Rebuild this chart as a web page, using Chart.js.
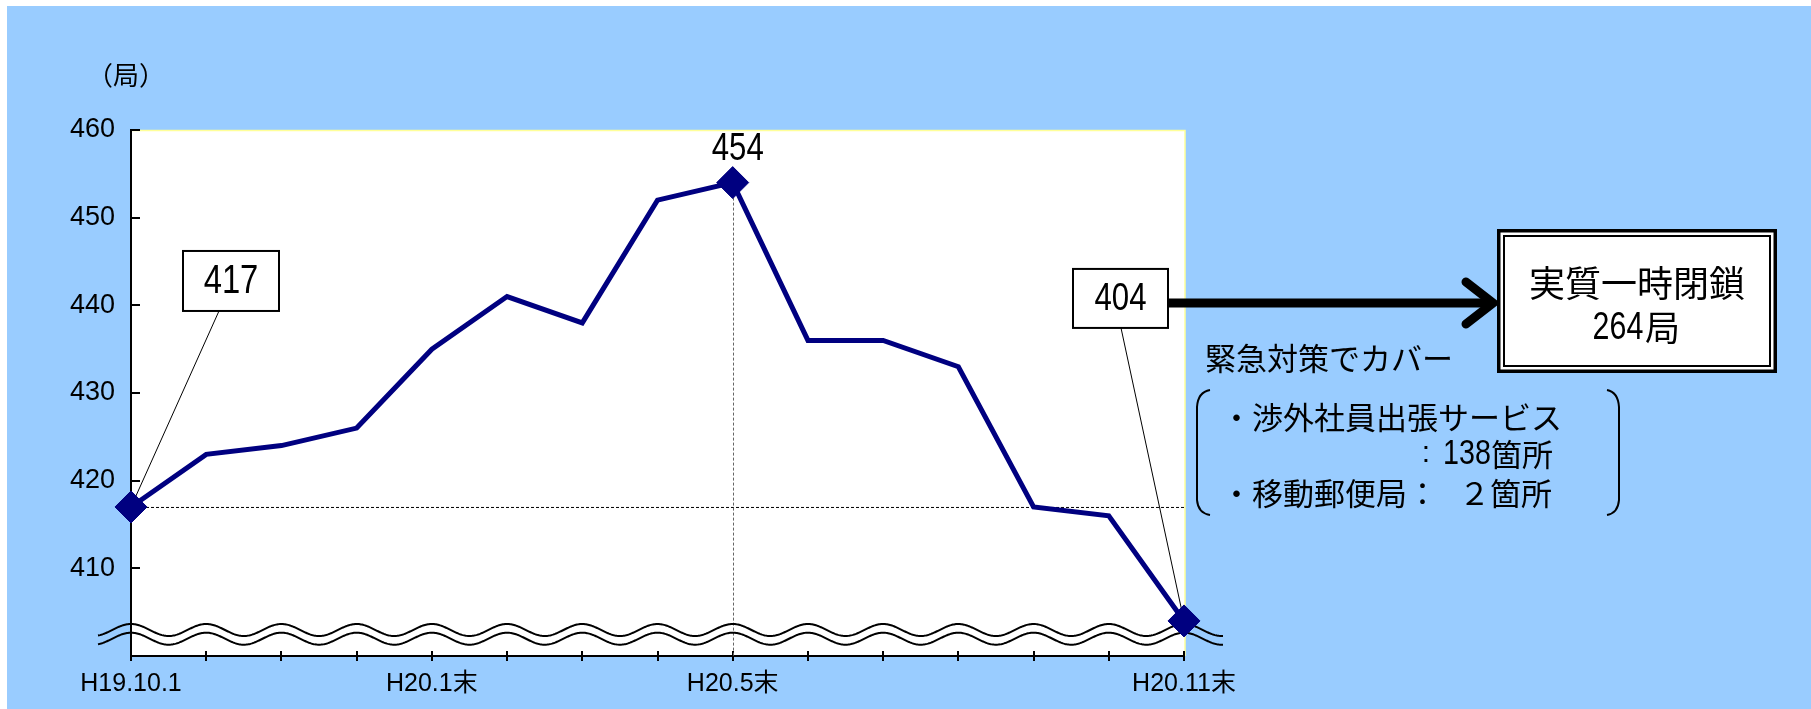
<!DOCTYPE html>
<html lang="ja">
<head>
<meta charset="UTF-8">
<title>郵便局数の推移</title>
<script src="https://cdn.jsdelivr.net/npm/chart.js"></script>
<style>
  html, body { margin: 0; padding: 0; background: #fff; }
  #wrap { width: 1811px; height: 709px; }
</style>
</head>
<body>
<div id="wrap"><canvas id="kyoku" width="1811" height="709"></canvas></div>
<script>
// 局数の推移（月末ごと）
const tsuki = ['H19.10.1', 'H19.10末', 'H19.11末', 'H19.12末', 'H20.1末', 'H20.2末', 'H20.3末', 'H20.4末',
               'H20.5末', 'H20.6末', 'H20.7末', 'H20.8末', 'H20.9末', 'H20.10末', 'H20.11末'];
const kyokusu = [417, 423, 424, 426, 435, 441, 438, 452, 454, 436, 436, 433, 417, 416, 404];
const yTicks = [400, 410, 420, 430, 440, 450, 460];
const xLabelIdx = [0, 4, 8, 14];   // 軸に出すラベル
const markIdx = [0, 8, 14];        // ◆を付ける点

// 右側の注記
const heisa = ['実質一時閉鎖', '264', '局'];
const cover = '緊急対策でカバー';
const shogai = ['・渉外社員出張サービス', ':', '138', '箇所'];
const idou = ['・移動郵便局：', '２箇所'];

const NAVY = '#000080';
const BLUE = '#99ccff';
const JP = '"Noto Sans CJK JP", sans-serif';
const LAT = '"Liberation Sans", "Noto Sans CJK JP", sans-serif';

// 細長い数字（横だけ縮める）
function narrow(ctx, txt, x, y, px, sx, align) {
  ctx.save();
  ctx.font = px + 'px "Liberation Sans", sans-serif';
  ctx.textAlign = align || 'center';
  ctx.textBaseline = 'middle';
  ctx.translate(x, y);
  ctx.scale(sx, 1);
  ctx.fillText(txt, 0, 0);
  ctx.restore();
}

function jp(ctx, txt, x, y, px, align) {
  ctx.font = px + 'px ' + JP;
  ctx.textAlign = align || 'left';
  ctx.textBaseline = 'middle';
  ctx.fillText(txt, x, y);
}

function line(ctx, x1, y1, x2, y2) {
  ctx.beginPath();
  ctx.moveTo(x1, y1);
  ctx.lineTo(x2, y2);
  ctx.stroke();
}

const deco = {
  id: 'deco',
  beforeDraw(chart) {
    const { ctx, chartArea: a } = chart;
    ctx.save();
    ctx.fillStyle = '#fff';
    ctx.fillRect(0, 0, chart.width, chart.height);
    ctx.fillStyle = BLUE;
    ctx.fillRect(7, 6, chart.width - 7, chart.height - 6);
    ctx.fillStyle = '#fff';
    ctx.fillRect(a.left, a.top, a.right - a.left + 1, a.bottom - a.top);
    ctx.strokeStyle = '#ffff99';
    ctx.lineWidth = 1.5;
    ctx.beginPath();
    ctx.moveTo(a.left, a.top + 0.5);
    ctx.lineTo(a.right + 1, a.top + 0.5);
    ctx.lineTo(a.right + 1, a.bottom);
    ctx.stroke();
    // 単位
    ctx.fillStyle = '#000';
    jp(ctx, '（局）', 126, 75, 26, 'center');
    ctx.restore();
  },
  beforeDatasetsDraw(chart) {
    const { ctx, chartArea: a } = chart;
    const xs = chart.scales.x, ys = chart.scales.y;
    ctx.save();
    ctx.strokeStyle = '#000';

    // 内向きの目盛り
    ctx.lineWidth = 2;
    yTicks.slice(1).forEach(v => {
      const y = Math.round(ys.getPixelForValue(v));
      line(ctx, a.left, y, a.left + 9, y);
    });
    tsuki.forEach((t, i) => {
      const x = Math.round(xs.getPixelForValue(i));
      line(ctx, x, a.bottom - 5, x, a.bottom + 5);
    });

    // 点線
    ctx.lineWidth = 1;
    ctx.setLineDash([3, 2]);
    const y0 = ys.getPixelForValue(kyokusu[0]);
    line(ctx, a.left, y0 + 0.5, a.right, y0 + 0.5);
    ctx.strokeStyle = '#666';
    const x8 = Math.round(xs.getPixelForValue(8)) + 0.5;
    line(ctx, x8, ys.getPixelForValue(kyokusu[8]), x8, a.bottom);
    ctx.setLineDash([]);

    // 省略の波線
    const step = xs.getPixelForValue(1) - xs.getPixelForValue(0);
    const yc = ys.getPixelForValue(yTicks[0]) - 26;
    ctx.strokeStyle = '#000';
    ctx.lineWidth = 2;
    [0, 8.7].forEach(off => {
      ctx.beginPath();
      for (let x = 98; x <= 1223; x += 1) {
        const y = yc + off - 6 * Math.cos((x - a.left) / step * 2 * Math.PI);
        if (x === 98) ctx.moveTo(x, y); else ctx.lineTo(x, y);
      }
      ctx.stroke();
    });

    // 引き出し線
    ctx.lineWidth = 1;
    const p0 = { x: xs.getPixelForValue(0), y: ys.getPixelForValue(kyokusu[0]) };
    const pN = { x: xs.getPixelForValue(14), y: ys.getPixelForValue(kyokusu[14]) };
    line(ctx, p0.x + 88, p0.y - 196, p0.x, p0.y);
    line(ctx, pN.x - 63, pN.y - 293, pN.x, pN.y);
    ctx.restore();
  },
  afterDatasetsDraw(chart) {
    const { ctx } = chart;
    const xs = chart.scales.x, ys = chart.scales.y;
    const p0 = { x: xs.getPixelForValue(0), y: ys.getPixelForValue(kyokusu[0]) };
    const p8 = { x: xs.getPixelForValue(8), y: ys.getPixelForValue(kyokusu[8]) };
    const pN = { x: xs.getPixelForValue(14), y: ys.getPixelForValue(kyokusu[14]) };
    ctx.save();
    ctx.fillStyle = '#000';
    ctx.strokeStyle = '#000';

    // 417 の枠
    ctx.lineWidth = 2;
    let bx = p0.x + 52, by = p0.y - 256;
    ctx.fillStyle = '#fff';
    ctx.fillRect(bx, by, 96, 60);
    ctx.strokeRect(bx, by, 96, 60);
    ctx.fillStyle = '#000';
    narrow(ctx, String(kyokusu[0]), bx + 48, by + 31, 41, 0.8);

    // 454
    narrow(ctx, String(kyokusu[8]), p8.x + 5, p8.y - 33, 39, 0.8);

    // 404 の枠
    bx = pN.x - 111; by = pN.y - 352;
    ctx.fillStyle = '#fff';
    ctx.fillRect(bx, by, 95, 59);
    ctx.strokeRect(bx, by, 95, 59);
    ctx.fillStyle = '#000';
    narrow(ctx, String(kyokusu[14]), bx + 47.5, by + 31, 38, 0.82);

    // 矢印
    ctx.lineWidth = 9;
    line(ctx, bx + 96, by + 34, 1490, by + 34);
    ctx.lineCap = 'round';
    ctx.lineJoin = 'miter';
    ctx.beginPath();
    ctx.moveTo(1466, by + 13);
    ctx.lineTo(1493, by + 34);
    ctx.lineTo(1466, by + 55);
    ctx.stroke();
    ctx.lineCap = 'butt';

    // 実質一時閉鎖の二重枠
    ctx.fillStyle = '#fff';
    ctx.fillRect(1497, 229, 280, 144);
    ctx.lineWidth = 3.5;
    ctx.strokeRect(1498.75, 230.75, 276.5, 140.5);
    ctx.lineWidth = 2;
    ctx.strokeRect(1504, 236, 266, 130);
    ctx.fillStyle = '#000';
    jp(ctx, heisa[0], 1637, 283, 36, 'center');
    narrow(ctx, heisa[1], 1618, 328, 39, 0.78, 'center');
    jp(ctx, heisa[2], 1645, 328, 35, 'left');

    // 緊急対策
    jp(ctx, cover, 1205, 358, 31);
    jp(ctx, shogai[0], 1221, 417, 31);
    narrow(ctx, shogai[1], 1426, 454, 30, 1, 'center');
    narrow(ctx, shogai[2], 1443, 454, 35, 0.82, 'left');
    jp(ctx, shogai[3], 1491, 454, 31);
    jp(ctx, idou[0], 1221, 493, 31);
    jp(ctx, idou[1], 1459, 493, 31);

    // 括弧
    ctx.lineWidth = 2;
    ctx.beginPath();
    ctx.moveTo(1210, 390);
    ctx.quadraticCurveTo(1198, 392, 1197, 407);
    ctx.lineTo(1197, 500);
    ctx.quadraticCurveTo(1198, 513, 1210, 515);
    ctx.stroke();
    ctx.beginPath();
    ctx.moveTo(1607, 390);
    ctx.quadraticCurveTo(1618, 392, 1619, 407);
    ctx.lineTo(1619, 500);
    ctx.quadraticCurveTo(1618, 513, 1607, 515);
    ctx.stroke();
    ctx.restore();
  }
};

new Chart(document.getElementById('kyoku'), {
  type: 'line',
  data: {
    labels: tsuki,
    datasets: [{
      data: kyokusu,
      borderColor: NAVY,
      borderWidth: 5,
      tension: 0,
      clip: false,
      pointStyle: 'rectRot',
      pointRadius: ctx => markIdx.includes(ctx.dataIndex) ? 16 : 0,
      pointHoverRadius: ctx => markIdx.includes(ctx.dataIndex) ? 16 : 0,
      pointBackgroundColor: NAVY,
      pointBorderColor: NAVY,
      pointBorderWidth: 1
    }]
  },
  options: {
    responsive: false,
    devicePixelRatio: 1,
    animation: false,
    events: [],
    layout: { autoPadding: false, padding: { top: 130, right: 627, left: 0, bottom: 0 } },
    plugins: { legend: { display: false }, tooltip: { enabled: false } },
    scales: {
      x: {
        type: 'category',
        offset: false,
        afterFit: s => { s.height = 53; },
        grid: { display: true, drawOnChartArea: false, drawTicks: false },
        border: { display: true, color: '#000', width: 2 },
        ticks: {
          autoSkip: false,
          maxRotation: 0,
          minRotation: 0,
          padding: 13,
          color: '#000',
          font: { family: LAT, size: 25 },
          callback: (v, i) => xLabelIdx.includes(i) ? tsuki[i] : ''
        }
      },
      y: {
        min: yTicks[0],
        max: yTicks[yTicks.length - 1],
        afterFit: s => { s.width = 131; },
        grid: { display: true, drawOnChartArea: false, drawTicks: false },
        border: { display: true, color: '#000', width: 2 },
        ticks: {
          stepSize: yTicks[1] - yTicks[0],
          padding: 16,
          color: '#000',
          font: { family: LAT, size: 27 },
          callback: v => v === yTicks[0] ? '' : v
        }
      }
    }
  },
  plugins: [deco]
});
</script>
</body>
</html>
